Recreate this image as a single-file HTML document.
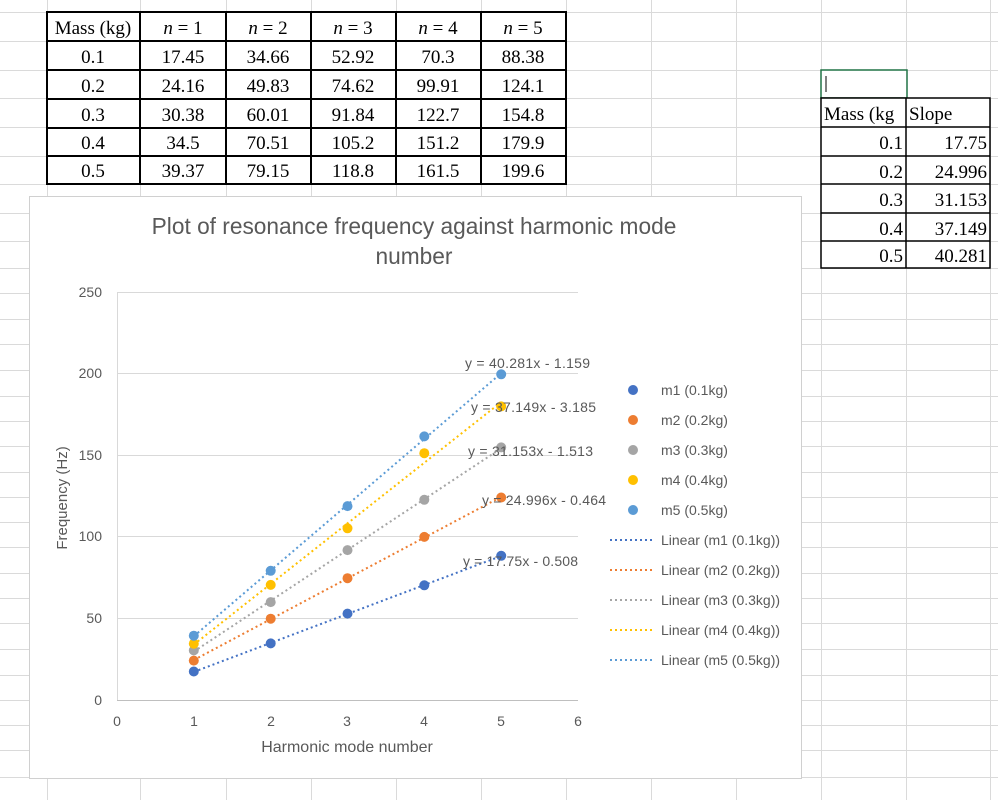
<!DOCTYPE html>
<html><head><meta charset="utf-8"><style>
html,body{margin:0;padding:0;background:#fff;}
svg{display:block;}
.t{font-family:"Liberation Serif",serif;font-size:19px;fill:#000;}
.c{font-family:"Liberation Sans",sans-serif;fill:#595959;}
</style></head><body>
<svg width="998" height="800" viewBox="0 0 998 800" xmlns="http://www.w3.org/2000/svg">
<g stroke="#dadada" stroke-width="1">
<line x1="47.5" y1="0" x2="47.5" y2="800"/><line x1="140.5" y1="0" x2="140.5" y2="800"/><line x1="226.5" y1="0" x2="226.5" y2="800"/><line x1="311.5" y1="0" x2="311.5" y2="800"/><line x1="396.5" y1="0" x2="396.5" y2="800"/><line x1="481.5" y1="0" x2="481.5" y2="800"/><line x1="566.5" y1="0" x2="566.5" y2="800"/><line x1="651.5" y1="0" x2="651.5" y2="800"/><line x1="736.5" y1="0" x2="736.5" y2="800"/><line x1="821.5" y1="0" x2="821.5" y2="800"/><line x1="906.5" y1="0" x2="906.5" y2="800"/><line x1="990.5" y1="0" x2="990.5" y2="800"/>
<line x1="0" y1="12.5" x2="998" y2="12.5"/><line x1="0" y1="41.5" x2="998" y2="41.5"/><line x1="0" y1="70.5" x2="998" y2="70.5"/><line x1="0" y1="98.5" x2="998" y2="98.5"/><line x1="0" y1="127.5" x2="998" y2="127.5"/><line x1="0" y1="156.5" x2="998" y2="156.5"/><line x1="0" y1="184.5" x2="998" y2="184.5"/><line x1="0" y1="213.5" x2="998" y2="213.5"/><line x1="0" y1="241.5" x2="998" y2="241.5"/><line x1="0" y1="268.5" x2="998" y2="268.5"/><line x1="0" y1="293.5" x2="998" y2="293.5"/><line x1="0" y1="319.5" x2="998" y2="319.5"/><line x1="0" y1="344.5" x2="998" y2="344.5"/><line x1="0" y1="370.5" x2="998" y2="370.5"/><line x1="0" y1="396.5" x2="998" y2="396.5"/><line x1="0" y1="421.5" x2="998" y2="421.5"/><line x1="0" y1="446.5" x2="998" y2="446.5"/><line x1="0" y1="472.5" x2="998" y2="472.5"/><line x1="0" y1="497.5" x2="998" y2="497.5"/><line x1="0" y1="522.5" x2="998" y2="522.5"/><line x1="0" y1="547.5" x2="998" y2="547.5"/><line x1="0" y1="573.5" x2="998" y2="573.5"/><line x1="0" y1="598.5" x2="998" y2="598.5"/><line x1="0" y1="623.5" x2="998" y2="623.5"/><line x1="0" y1="649.5" x2="998" y2="649.5"/><line x1="0" y1="675.5" x2="998" y2="675.5"/><line x1="0" y1="700.5" x2="998" y2="700.5"/><line x1="0" y1="725.5" x2="998" y2="725.5"/><line x1="0" y1="750.5" x2="998" y2="750.5"/><line x1="0" y1="777.5" x2="998" y2="777.5"/>
</g>
<!-- table 1 -->
<rect x="47" y="12" width="519" height="172" fill="#fff" stroke="#000" stroke-width="2"/>
<g stroke="#000" stroke-width="2">
<line x1="140" y1="12" x2="140" y2="184"/><line x1="226" y1="12" x2="226" y2="184"/><line x1="311" y1="12" x2="311" y2="184"/><line x1="396" y1="12" x2="396" y2="184"/><line x1="481" y1="12" x2="481" y2="184"/>
<line x1="47" y1="41" x2="566" y2="41"/><line x1="47" y1="70" x2="566" y2="70"/><line x1="47" y1="99" x2="566" y2="99"/><line x1="47" y1="128" x2="566" y2="128"/><line x1="47" y1="156" x2="566" y2="156"/>
</g>
<g class="t" text-anchor="middle">
<text x="93" y="34">Mass (kg)</text>
<text x="183" y="34"><tspan font-style="italic">n</tspan> = 1</text>
<text x="268" y="34"><tspan font-style="italic">n</tspan> = 2</text>
<text x="353" y="34"><tspan font-style="italic">n</tspan> = 3</text>
<text x="438" y="34"><tspan font-style="italic">n</tspan> = 4</text>
<text x="523" y="34"><tspan font-style="italic">n</tspan> = 5</text>
<text x="93" y="63">0.1</text><text x="183" y="63">17.45</text><text x="268" y="63">34.66</text><text x="353" y="63">52.92</text><text x="438" y="63">70.3</text><text x="523" y="63">88.38</text>
<text x="93" y="92">0.2</text><text x="183" y="92">24.16</text><text x="268" y="92">49.83</text><text x="353" y="92">74.62</text><text x="438" y="92">99.91</text><text x="523" y="92">124.1</text>
<text x="93" y="121">0.3</text><text x="183" y="121">30.38</text><text x="268" y="121">60.01</text><text x="353" y="121">91.84</text><text x="438" y="121">122.7</text><text x="523" y="121">154.8</text>
<text x="93" y="149">0.4</text><text x="183" y="149">34.5</text><text x="268" y="149">70.51</text><text x="353" y="149">105.2</text><text x="438" y="149">151.2</text><text x="523" y="149">179.9</text>
<text x="93" y="177">0.5</text><text x="183" y="177">39.37</text><text x="268" y="177">79.15</text><text x="353" y="177">118.8</text><text x="438" y="177">161.5</text><text x="523" y="177">199.6</text>
</g>
<!-- table 2 -->
<rect x="821" y="70" width="86" height="28" fill="#fff" stroke="#217346" stroke-width="1.5"/>
<line x1="826" y1="76" x2="826" y2="92" stroke="#000"/>
<rect x="821" y="98" width="169" height="170" fill="#fff" stroke="#000" stroke-width="1.5"/>
<g stroke="#000" stroke-width="1.5">
<line x1="906" y1="98" x2="906" y2="268"/>
<line x1="821" y1="127" x2="990" y2="127"/><line x1="821" y1="156" x2="990" y2="156"/><line x1="821" y1="184" x2="990" y2="184"/><line x1="821" y1="213" x2="990" y2="213"/><line x1="821" y1="241" x2="990" y2="241"/>
</g>
<g class="t">
<text x="824" y="120">Mass (kg</text><text x="909" y="120">Slope</text>
</g>
<g class="t" text-anchor="end">
<text x="903" y="149">0.1</text><text x="987" y="149">17.75</text>
<text x="903" y="178">0.2</text><text x="987" y="178">24.996</text>
<text x="903" y="206">0.3</text><text x="987" y="206">31.153</text>
<text x="903" y="235">0.4</text><text x="987" y="235">37.149</text>
<text x="903" y="262">0.5</text><text x="987" y="262">40.281</text>
</g>
<!-- chart -->
<rect x="29.5" y="196.5" width="772" height="582" fill="#fff" stroke="#d0d0d0"/>
<g class="c" font-size="22.7" text-anchor="middle">
<text x="414" y="234">Plot of resonance frequency against harmonic mode</text>
<text x="414" y="264">number</text>
</g>
<g stroke="#d9d9d9" stroke-width="1">
<line x1="117" y1="292.5" x2="578" y2="292.5"/><line x1="117" y1="373.5" x2="578" y2="373.5"/><line x1="117" y1="455.5" x2="578" y2="455.5"/><line x1="117" y1="536.5" x2="578" y2="536.5"/><line x1="117" y1="618.5" x2="578" y2="618.5"/>
<line x1="117.5" y1="292" x2="117.5" y2="700"/>
</g>
<line x1="117" y1="700.5" x2="578" y2="700.5" stroke="#bfbfbf"/>
<g class="c" font-size="14" text-anchor="end">
<text x="102" y="297">250</text><text x="102" y="378">200</text><text x="102" y="460">150</text><text x="102" y="541">100</text><text x="102" y="623">50</text><text x="102" y="705">0</text>
</g>
<g class="c" font-size="14" text-anchor="middle">
<text x="117" y="726">0</text><text x="194" y="726">1</text><text x="271" y="726">2</text><text x="347" y="726">3</text><text x="424" y="726">4</text><text x="501" y="726">5</text><text x="578" y="726">6</text>
<text x="347" y="752" font-size="16">Harmonic mode number</text>
<text transform="translate(67,498) rotate(-90)" font-size="15">Frequency (Hz)</text>
</g>
<!-- trendlines -->
<g stroke-width="2" stroke-dasharray="2 3" fill="none">
<line x1="193.8" y1="671.9" x2="501.2" y2="556.0" stroke="#4472C4"/>
<line x1="193.8" y1="660.0" x2="501.2" y2="496.8" stroke="#ED7D31"/>
<line x1="193.8" y1="651.6" x2="501.2" y2="448.3" stroke="#A5A5A5"/>
<line x1="193.8" y1="644.6" x2="501.2" y2="402.1" stroke="#FFC000"/>
<line x1="193.8" y1="636.2" x2="501.2" y2="373.2" stroke="#5B9BD5"/>
</g>
<g fill="#4472C4"><circle cx="193.8" cy="671.5" r="5"/><circle cx="270.7" cy="643.4" r="5"/><circle cx="347.5" cy="613.6" r="5"/><circle cx="424.3" cy="585.3" r="5"/><circle cx="501.2" cy="555.8" r="5"/></g>
<g fill="#ED7D31"><circle cx="193.8" cy="660.6" r="5"/><circle cx="270.7" cy="618.7" r="5"/><circle cx="347.5" cy="578.2" r="5"/><circle cx="424.3" cy="536.9" r="5"/><circle cx="501.2" cy="497.5" r="5"/></g>
<g fill="#A5A5A5"><circle cx="193.8" cy="650.4" r="5"/><circle cx="270.7" cy="602.1" r="5"/><circle cx="347.5" cy="550.1" r="5"/><circle cx="424.3" cy="499.8" r="5"/><circle cx="501.2" cy="447.4" r="5"/></g>
<g fill="#FFC000"><circle cx="193.8" cy="643.7" r="5"/><circle cx="270.7" cy="584.9" r="5"/><circle cx="347.5" cy="528.3" r="5"/><circle cx="424.3" cy="453.2" r="5"/><circle cx="501.2" cy="406.4" r="5"/></g>
<g fill="#5B9BD5"><circle cx="193.8" cy="635.7" r="5"/><circle cx="270.7" cy="570.8" r="5"/><circle cx="347.5" cy="506.1" r="5"/><circle cx="424.3" cy="436.4" r="5"/><circle cx="501.2" cy="374.3" r="5"/></g>
<g class="c" font-size="14" fill="#404040">
<text x="465" y="368" textLength="125">y = 40.281x - 1.159</text>
<text x="471" y="412" textLength="125">y = 37.149x - 3.185</text>
<text x="468" y="456" textLength="125">y = 31.153x - 1.513</text>
<text x="482" y="505" textLength="124">y = 24.996x - 0.464</text>
<text x="463" y="566" textLength="115">y = 17.75x - 0.508</text>
</g>
<!-- legend -->
<circle cx="633" cy="390" r="5" fill="#4472C4"/><circle cx="633" cy="420" r="5" fill="#ED7D31"/><circle cx="633" cy="450" r="5" fill="#A5A5A5"/><circle cx="633" cy="480" r="5" fill="#FFC000"/><circle cx="633" cy="510" r="5" fill="#5B9BD5"/>
<g stroke-width="2" stroke-dasharray="2 3">
<line x1="610" y1="540" x2="655" y2="540" stroke="#4472C4"/>
<line x1="610" y1="570" x2="655" y2="570" stroke="#ED7D31"/>
<line x1="610" y1="600" x2="655" y2="600" stroke="#A5A5A5"/>
<line x1="610" y1="630" x2="655" y2="630" stroke="#FFC000"/>
<line x1="610" y1="660" x2="655" y2="660" stroke="#5B9BD5"/>
</g>
<g class="c" font-size="14">
<text x="661" y="395">m1 (0.1kg)</text><text x="661" y="425">m2 (0.2kg)</text><text x="661" y="455">m3 (0.3kg)</text><text x="661" y="485">m4 (0.4kg)</text><text x="661" y="515">m5 (0.5kg)</text>
<text x="661" y="545">Linear (m1 (0.1kg))</text><text x="661" y="575">Linear (m2 (0.2kg))</text><text x="661" y="605">Linear (m3 (0.3kg))</text><text x="661" y="635">Linear (m4 (0.4kg))</text><text x="661" y="665">Linear (m5 (0.5kg))</text>
</g>
</svg>
</body></html>
